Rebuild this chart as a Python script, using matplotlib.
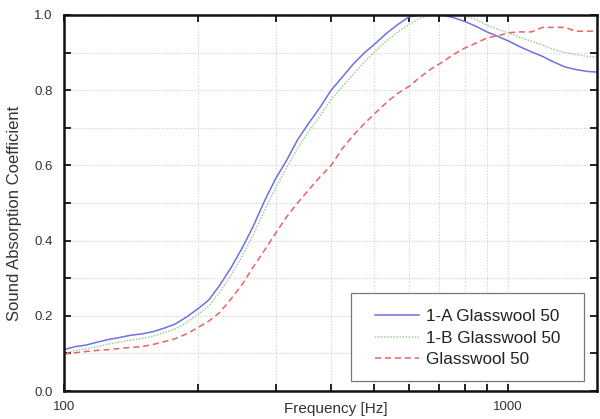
import matplotlib
matplotlib.use("Agg")
import matplotlib.pyplot as plt
from matplotlib.patches import Rectangle
from matplotlib.ticker import FixedLocator, NullFormatter, MultipleLocator

plt.rcParams['font.family'] = ['Liberation Sans', 'DejaVu Sans']

freq = [100, 106, 112, 119, 126, 133, 141, 150, 159, 168, 178, 189, 200, 212, 224, 238,
        252, 267, 283, 300, 317, 336, 356, 378, 400, 424, 449, 476, 504, 534, 566, 599,
        635, 673, 713, 755, 800, 848, 898, 951, 1008, 1068, 1131, 1198, 1270, 1345, 1425,
        1510, 1600]

glasswool_1a = [0.110, 0.118, 0.122, 0.130, 0.137, 0.142, 0.148, 0.152, 0.158, 0.167, 0.178,
                0.197, 0.218, 0.242, 0.280, 0.328, 0.380, 0.438, 0.505, 0.565, 0.612, 0.668,
                0.712, 0.755, 0.800, 0.835, 0.870, 0.900, 0.925, 0.952, 0.975, 0.995, 1.0,
                1.0, 1.0, 0.993, 0.983, 0.970, 0.955, 0.943, 0.930, 0.915, 0.902, 0.890,
                0.875, 0.862, 0.855, 0.850, 0.848]

glasswool_1b = [0.100, 0.108, 0.112, 0.118, 0.125, 0.130, 0.135, 0.140, 0.146, 0.155, 0.165,
                0.182, 0.203, 0.226, 0.262, 0.308, 0.358, 0.415, 0.480, 0.540, 0.592, 0.645,
                0.690, 0.732, 0.775, 0.810, 0.843, 0.875, 0.905, 0.932, 0.955, 0.975, 0.992,
                1.0, 1.0, 1.0, 0.998, 0.988, 0.973, 0.962, 0.952, 0.940, 0.930, 0.920,
                0.908, 0.900, 0.895, 0.890, 0.888]

glasswool = [0.098, 0.102, 0.105, 0.108, 0.110, 0.113, 0.116, 0.118, 0.124, 0.131, 0.139,
             0.152, 0.168, 0.186, 0.208, 0.245, 0.283, 0.330, 0.374, 0.420, 0.462, 0.500,
             0.535, 0.570, 0.600, 0.645, 0.680, 0.712, 0.740, 0.768, 0.792, 0.810, 0.835,
             0.857, 0.875, 0.895, 0.912, 0.925, 0.939, 0.945, 0.953, 0.955, 0.955, 0.967,
             0.967, 0.967, 0.957, 0.957, 0.957]

labels = ["1-A Glasswool 50", "1-B Glasswool 50", "Glasswool 50"]

fig = plt.figure(figsize=(6.0, 4.19), dpi=100)
ax = fig.add_axes([64/600, 28/419, 533/600, 376/419])

ax.plot(freq, glasswool_1a, color='#6f6fe6', lw=1.1, label=labels[0])
ax.plot(freq, glasswool_1b, color='#9ccf9c', lw=1.1, ls=(0, (1, 1)), label=labels[1])
ax.plot(freq, glasswool, color='#ec6262', lw=1.1, ls=(0, (4, 2.5)), label=labels[2])

ax.set_xscale('log')
ax.set_xlim(100, 1590)
ax.set_ylim(0, 1.0)

ax.xaxis.set_major_locator(FixedLocator([100, 1000]))
ax.xaxis.set_minor_locator(FixedLocator([200, 300, 400, 500, 600, 700, 800, 900]))
ax.xaxis.set_minor_formatter(NullFormatter())
ax.set_xticklabels(['100', '1000'])
ax.yaxis.set_major_locator(MultipleLocator(0.2))
ax.yaxis.set_minor_locator(MultipleLocator(0.1))
ax.set_yticklabels([f"{v:.1f}" for v in ax.get_yticks()])

ax.grid(True, which='both', color='#cfcfcf', ls=(0, (1, 1.5)), lw=0.8)
ax.tick_params(which='both', direction='in', top=True, right=True, length=5, width=1.4,
               colors='#222222', labelsize=9.5, labelcolor='#333333')
ax.tick_params(axis='x', which='both', pad=7)
ax.tick_params(axis='y', which='both', pad=8)
for s in ax.spines.values():
    s.set_linewidth(1.8)
    s.set_color('#111111')

ax.set_xlabel('Frequency [Hz]', fontsize=11, color='#333333')
ax.xaxis.set_label_coords((336 - 64) / 533, -0.03)
ax.set_ylabel('Sound Absorption Coefficient', fontsize=12, color='#333333')
ax.yaxis.set_label_coords((22 - 64) / 533, (391 - 213) / 376)

# legend frame (positioned in figure fraction to match the reference layout)
frame = Rectangle((351/600, 38/419), 233/600, 88/419, transform=fig.transFigure,
                  facecolor='white', edgecolor='#777777', lw=0.9, zorder=5, clip_on=False)
ax.add_artist(frame)
leg = ax.legend(loc='center', bbox_to_anchor=(467.5/600, 81/419), bbox_transform=fig.transFigure,
                fontsize=12.3, frameon=False, handlelength=2.6, handletextpad=0.4,
                labelspacing=0.4, borderpad=0)
leg.set_zorder(6)
for t in leg.get_texts():
    t.set_color('#222222')

fig.savefig('out.png', dpi=100)
